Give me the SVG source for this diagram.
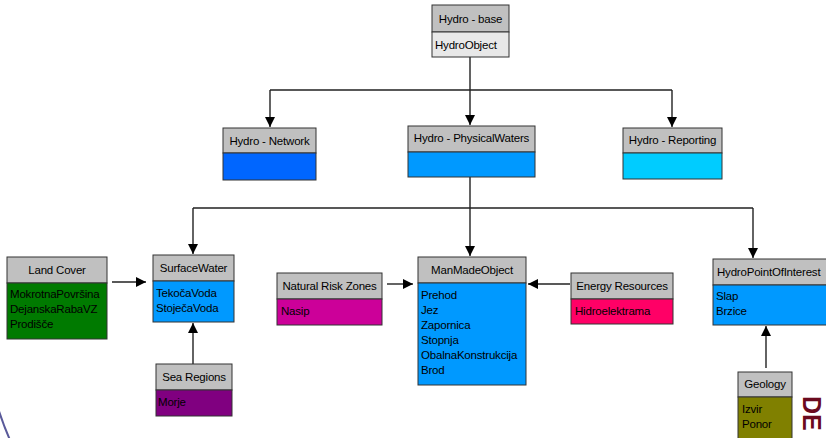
<svg xmlns="http://www.w3.org/2000/svg" width="826" height="438" viewBox="0 0 826 438">
<style>
.box{stroke:#333;stroke-width:1}
.hd{fill:#C0C0C0}
.t{font-family:"Liberation Sans",Arial,sans-serif;font-size:11.5px;fill:#000;letter-spacing:-0.2px}
.h{text-anchor:middle}
.c{fill:none;stroke:#222;stroke-width:1.4}
</style>
<defs>
<marker id="ah" viewBox="0 0 10 10" refX="10" refY="5" markerWidth="11" markerHeight="10" markerUnits="userSpaceOnUse" orient="auto"><path d="M0,0 L10,5 L0,10z" fill="#000"/></marker>
</defs>
<rect width="826" height="438" fill="#fff"/>
<path d="M-2 408 Q 3 424 10 440" fill="none" stroke="#5a5a9a" stroke-width="2"/>
<text transform="translate(803,396) rotate(90)" style="font-family:'Liberation Sans',Arial,sans-serif;font-size:25px;font-weight:bold;fill:#6B0A1E">DE</text>

<g id="connectors">
<path class="c" d="M470 57 V90 M270 90 H672"/>
<path class="c" d="M270 90 V127" marker-end="url(#ah)"/>
<path class="c" d="M470 90 V125" marker-end="url(#ah)"/>
<path class="c" d="M672 90 V127" marker-end="url(#ah)"/>
<path class="c" d="M470 177 V208 M193 208 H753"/>
<path class="c" d="M193 208 V254" marker-end="url(#ah)"/>
<path class="c" d="M470 208 V256" marker-end="url(#ah)"/>
<path class="c" d="M753 208 V258" marker-end="url(#ah)"/>
<path class="c" d="M112 282 H146" marker-end="url(#ah)"/>
<path class="c" d="M193 364 V323" marker-end="url(#ah)"/>
<path class="c" d="M387 284 H413" marker-end="url(#ah)"/>
<path class="c" d="M570 284 H528" marker-end="url(#ah)"/>
<path class="c" d="M766 368 V326" marker-end="url(#ah)"/>
</g>

<g id="hydro-base">
<rect class="box hd" x="432" y="5" width="77" height="27"/>
<rect class="box" x="432" y="32" width="77" height="25" fill="#E8E8E8"/>
<text class="t h" x="470.5" y="23">Hydro - base</text>
<text class="t" x="435" y="49">HydroObject</text>
</g>

<g id="hydro-network">
<rect class="box hd" x="223" y="128" width="93" height="25"/>
<rect class="box" x="223" y="153" width="93" height="27" fill="#0066FF"/>
<text class="t h" x="269.5" y="145">Hydro - Network</text>
</g>

<g id="hydro-physicalwaters">
<rect class="box hd" x="408" y="126" width="127" height="26"/>
<rect class="box" x="408" y="152" width="127" height="25" fill="#0099FF"/>
<text class="t h" x="471.5" y="142">Hydro - PhysicalWaters</text>
</g>

<g id="hydro-reporting">
<rect class="box hd" x="623" y="128" width="99" height="25"/>
<rect class="box" x="623" y="153" width="99" height="26" fill="#00CCFF"/>
<text class="t h" x="672.5" y="144">Hydro - Reporting</text>
</g>

<g id="land-cover">
<rect class="box hd" x="7" y="257" width="100" height="26"/>
<rect class="box" x="7" y="283" width="100" height="56" fill="#007A00"/>
<text class="t h" x="57" y="274">Land Cover</text>
<text class="t" x="10" y="298">MokrotnaPovršina</text>
<text class="t" x="10" y="313">DejanskaRabaVZ</text>
<text class="t" x="10" y="328">Prodišče</text>
</g>

<g id="surfacewater">
<rect class="box hd" x="153" y="255" width="81" height="26"/>
<rect class="box" x="153" y="281" width="81" height="41" fill="#0099FF"/>
<text class="t h" x="193.5" y="272">SurfaceWater</text>
<text class="t" x="156" y="297">TekočaVoda</text>
<text class="t" x="156" y="312">StoječaVoda</text>
</g>

<g id="sea-regions">
<rect class="box hd" x="156" y="364" width="76" height="26"/>
<rect class="box" x="156" y="390" width="76" height="26" fill="#800080"/>
<text class="t h" x="194" y="381">Sea Regions</text>
<text class="t" x="158" y="406">Morje</text>
</g>

<g id="natural-risk-zones">
<rect class="box hd" x="277" y="273" width="105" height="26"/>
<rect class="box" x="277" y="299" width="105" height="26" fill="#CC0099"/>
<text class="t h" x="329.5" y="290">Natural Risk Zones</text>
<text class="t" x="281" y="315">Nasip</text>
</g>

<g id="manmadeobject">
<rect class="box hd" x="418" y="257" width="108" height="26"/>
<rect class="box" x="418" y="283" width="108" height="102" fill="#0099FF"/>
<text class="t h" x="472" y="274">ManMadeObject</text>
<text class="t" x="421" y="299">Prehod</text>
<text class="t" x="421" y="314">Jez</text>
<text class="t" x="421" y="329">Zapornica</text>
<text class="t" x="421" y="344">Stopnja</text>
<text class="t" x="421" y="359">ObalnaKonstrukcija</text>
<text class="t" x="421" y="374">Brod</text>
</g>

<g id="energy-resources">
<rect class="box hd" x="571" y="273" width="102" height="26"/>
<rect class="box" x="571" y="299" width="102" height="25" fill="#FF0066"/>
<text class="t h" x="622" y="290">Energy Resources</text>
<text class="t" x="575" y="315">Hidroelektrama</text>
</g>

<g id="hydropointofinterest">
<rect class="box hd" x="713" y="259" width="118" height="26"/>
<rect class="box" x="713" y="285" width="118" height="40" fill="#0099FF"/>
<text class="t" x="717" y="276">HydroPointOfInterest</text>
<text class="t" x="716" y="300">Slap</text>
<text class="t" x="716" y="315">Brzice</text>
</g>

<g id="geology">
<rect class="box hd" x="738" y="372" width="54" height="25"/>
<rect class="box" x="738" y="397" width="54" height="45" fill="#808000"/>
<text class="t h" x="765" y="388">Geology</text>
<text class="t" x="742" y="413">Izvir</text>
<text class="t" x="742" y="428">Ponor</text>
</g>
</svg>
